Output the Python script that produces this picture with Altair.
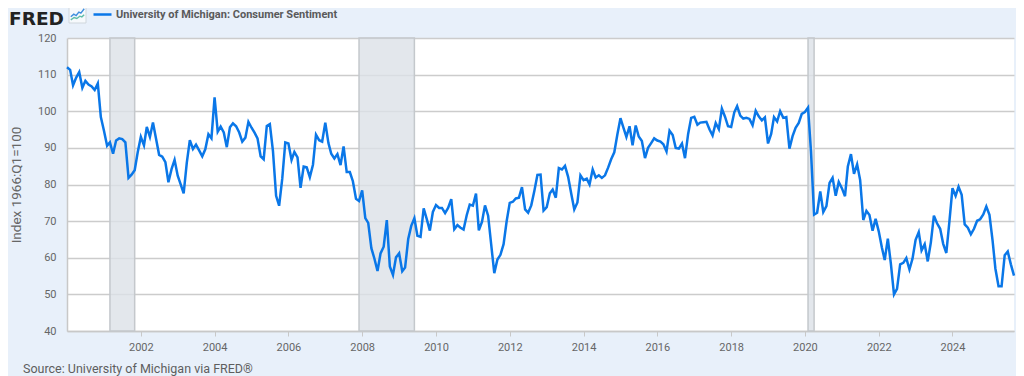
import altair as alt
import pandas as pd

sentiment = [
    112.0,111.3,107.1,109.2,110.7,106.4,108.3,107.3,106.8,105.8,107.6,98.4,
    94.7,90.6,91.5,88.4,92.0,92.6,92.4,91.5,81.8,82.7,83.9,88.8,
    93.0,90.7,95.7,93.0,96.9,92.4,88.1,87.6,86.1,80.6,84.2,86.7,
    82.4,79.9,77.6,86.0,92.1,89.7,90.9,89.3,87.7,89.6,93.7,92.6,
    103.8,94.4,95.8,94.2,90.2,95.6,96.7,95.9,94.2,91.7,92.8,97.1,
    95.5,94.1,92.6,87.7,86.9,96.0,96.5,89.1,76.9,74.2,81.6,91.5,
    91.2,86.7,88.9,87.4,79.1,84.9,84.7,82.0,85.4,93.6,92.1,91.7,
    96.9,91.3,88.4,87.1,88.3,85.3,90.4,83.4,83.4,80.9,76.1,75.5,
    78.4,70.8,69.5,62.6,59.8,56.4,61.2,63.0,70.3,57.6,55.3,60.1,
    61.2,56.3,57.3,65.1,68.7,70.8,66.0,65.7,73.5,70.6,67.4,72.5,
    74.4,73.6,73.6,72.2,73.6,76.0,67.8,68.9,68.2,67.7,71.6,74.5,
    74.2,77.5,67.5,69.8,74.3,71.5,63.7,55.8,59.5,60.8,63.7,69.9,
    75.0,75.3,76.2,76.4,79.3,73.2,72.3,74.3,78.3,82.6,82.7,72.9,
    73.8,77.6,78.6,76.4,84.5,84.1,85.1,82.1,77.5,73.2,75.1,82.5,
    81.2,81.6,80.0,84.1,81.9,82.5,81.8,82.5,84.6,86.9,88.8,93.6,
    98.1,95.4,93.0,95.9,90.7,96.1,93.1,91.9,87.2,90.0,91.3,92.6,
    92.0,91.7,91.0,89.0,94.7,93.5,90.0,89.8,91.2,87.2,93.8,98.2,
    98.5,96.3,96.9,97.0,97.1,95.0,93.4,96.8,95.1,100.7,98.5,95.9,
    95.7,99.7,101.4,98.8,98.0,98.2,97.9,96.2,100.1,98.6,97.5,98.3,
    91.2,93.8,98.4,97.2,100.0,98.2,98.4,89.8,93.2,95.5,96.8,99.3,
    99.8,101.0,89.1,71.8,72.3,78.1,72.5,74.1,80.4,81.8,76.9,80.7,
    79.0,76.8,84.9,88.3,82.9,85.5,81.2,70.3,72.8,71.7,67.4,70.6,
    67.2,62.8,59.4,65.2,58.4,50.0,51.5,58.2,58.6,59.9,56.8,59.7,
    64.9,67.0,62.0,63.7,59.0,64.2,71.5,69.4,67.9,63.8,61.3,69.7,
    79.0,76.9,79.4,77.2,69.1,68.2,66.4,67.9,70.1,70.5,71.8,74.0,
    71.7,64.7,57.0,52.2,52.2,60.7,61.7,58.2,55.1,
]
dates = pd.date_range("2000-01-01", periods=len(sentiment), freq="MS").strftime("%Y-%m-%d").tolist()
rec_start = ["2001-03-01", "2007-12-01", "2020-02-01"]
rec_end = ["2001-11-01", "2009-06-01", "2020-04-01"]
series_name = "University of Michigan: Consumer Sentiment"

BG = "#e8f0fa"
df = pd.DataFrame({"date": dates, "v": sentiment, "s": series_name})
rec = pd.DataFrame({"a": rec_start, "b": rec_end})

xs = alt.Scale(domain=["2000-01-01", "2025-09-01"], nice=False)
ys = alt.Scale(domain=[40, 120], nice=False, zero=False)

bands = alt.Chart(rec).mark_rect(fill="#dce1e7", fillOpacity=0.8, stroke="#c4c8cc", strokeWidth=1.5).encode(
    x=alt.X("a:T", scale=xs), x2="b:T")
line = alt.Chart(df).mark_line(strokeWidth=2.5, interpolate="linear").encode(
    x=alt.X("date:T", scale=xs,
            axis=alt.Axis(title=None, grid=False, domain=True, domainColor="#c8c8c8", domainWidth=1.5,
                          values=[f"{y}-01-01" for y in range(2002, 2026, 2)], format="%Y",
                          tickColor="#c8c8c8", tickSize=5, tickWidth=1, labelColor="#666666",
                          labelFontSize=11, labelFont="Roboto", labelPadding=5, labelFlush=False)),
    y=alt.Y("v:Q", scale=ys,
            axis=alt.Axis(title="Index 1966:Q1=100", values=list(range(40, 130, 10)), grid=True,
                          gridColor="#cccccc", gridWidth=1.5, domain=True, domainColor="#c8c8c8",
                          domainWidth=1.5, ticks=False, labelColor="#666666", labelFontSize=11,
                          labelFont="Roboto", labelPadding=11, titleFont="Roboto", titleFontSize=13.5,
                          titleFontWeight="normal", titleColor="#666666", titlePadding=14)),
    color=alt.Color("s:N", scale=alt.Scale(range=["#0a77e8"]),
                    legend=alt.Legend(title=None, orient="none", legendX=25, legendY=-34, symbolType="stroke",
                                      symbolSize=324, symbolStrokeWidth=2.5, labelFont="Roboto",
                                      labelFontSize=11, labelFontWeight="bold", labelColor="#5a5a5a",
                                      labelLimit=400, labelOffset=3)),
)

def label(text, x, y, **kw):
    return alt.Chart(pd.DataFrame({"t": [text]})).mark_text(clip=False, **kw).encode(
        x=alt.value(x), y=alt.value(y), text="t:N")

logo = label("FRED", -58, -13, align="left", baseline="alphabetic", font="DejaVu Sans", fontSize=18.5, fontWeight="bold", color="#222222")
source = label("Source: University of Michigan via FRED®", -44, 331, align="left", baseline="middle",
               font="Roboto", fontSize=12.5, color="#5e5e5e")

icon_box = alt.Chart(pd.DataFrame({"k": [0]})).mark_rect(
    fill="#f6f9fc", stroke="#cfd6dc", strokeWidth=1, clip=False
).encode(x=alt.value(2), x2=alt.value(19), y=alt.value(-32), y2=alt.value(-15))

def spark(path, color):
    return alt.Chart(pd.DataFrame({"k": [0]})).mark_point(
        shape=path, filled=False, stroke=color, strokeWidth=1.4, size=180, clip=False, opacity=1
    ).encode(x=alt.value(10.5), y=alt.value(-23.5))

spark_blue = spark("M-1,0.35L-0.55,-0.05L-0.2,0.15L0.2,-0.35L0.5,-0.2L1,-0.85", "#3f8ede")
spark_teal = spark("M-1,0.8L-0.5,0.45L-0.1,0.6L0.35,0.25L0.65,0.35L1,0.05", "#5fbda8")

chart = alt.layer(bands, line, logo, source, icon_box, spark_blue, spark_teal).properties(
    width=947, height=293, background=BG, padding={"left": 59, "top": 30, "right": 2, "bottom": 45},
    autosize=alt.AutoSizeParams(type="none"),
).configure_view(fill="white", stroke=None)

chart.save("out.html", embed_options={"renderer": "svg", "actions": False})
